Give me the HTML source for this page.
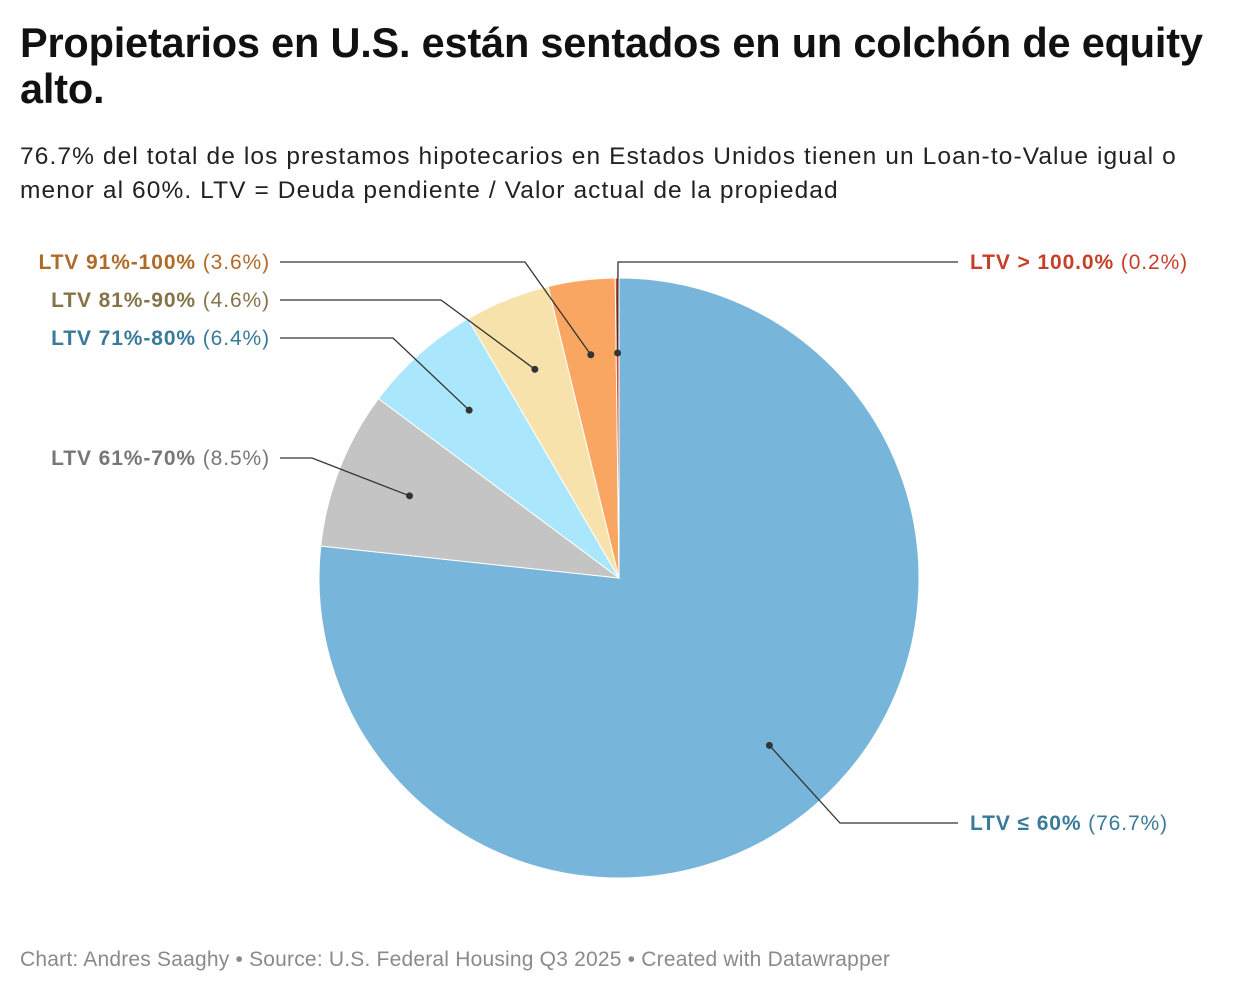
<!DOCTYPE html>
<html><head><meta charset="utf-8">
<style>
body{margin:0;width:1240px;height:994px;background:#fff;font-family:"Liberation Sans",Arial,sans-serif;overflow:hidden;position:relative}
h1{position:absolute;left:20px;top:20px;margin:0;font-size:41.5px;line-height:46px;font-weight:bold;color:#111;width:1215px;letter-spacing:-0.2px}
.sub{position:absolute;left:20px;top:140px;font-size:24.5px;line-height:34px;color:#222;width:1222px;letter-spacing:1.1px}
.foot{position:absolute;left:20px;top:948px;font-size:21px;color:#8a8a8a;letter-spacing:0.2px}
svg{position:absolute;left:0;top:0}
</style></head><body>
<h1>Propietarios en U.S. están sentados en un colchón de equity alto.</h1>
<div class="sub">76.7% del total de los prestamos hipotecarios en Estados Unidos tienen un Loan-to-Value igual o menor al 60%. LTV = Deuda pendiente / Valor actual de la propiedad</div>
<svg id="chart" width="1240" height="994"></svg>
<div class="foot">Chart: Andres Saaghy • Source: U.S. Federal Housing Q3 2025 • Created with Datawrapper</div>
<script>
const categories=["LTV ≤ 60%","LTV 61%-70%","LTV 71%-80%","LTV 81%-90%","LTV 91%-100%","LTV > 100.0%"];
const values=[76.7,8.5,6.4,4.6,3.6,0.2];
const valueLabels=["76.7%","8.5%","6.4%","4.6%","3.6%","0.2%"];
const fills=["#77b6da","#c4c4c4","#aae7fc","#f8e2ac","#f9a662","#d9442b"];
const textColors=["#3a7a99","#777777","#3a7a99","#857448","#b06a27","#c63f28"];
const labelPos=[[840,823,958,823,"start"],[312,458,280,458,"end"],[393,338,280,338,"end"],[441,300,280,300,"end"],[525,262,280,262,"end"],[618,262,958,262,"start"]];
const svg=document.getElementById('chart');
const NS="http://www.w3.org/2000/svg";
const cx=619,cy=578,R=300;
const total=values.reduce((a,b)=>a+b,0);
function pt(a,r){return [cx+r*Math.sin(a),cy-r*Math.cos(a)];}
let acc=0;
const gL=document.createElementNS(NS,'g');
values.forEach((v,i)=>{
 const a0=acc/total*2*Math.PI;acc+=v;const a1=acc/total*2*Math.PI;
 const p0=pt(a0,R),p1=pt(a1,R);const large=(a1-a0)>Math.PI?1:0;
 const p=document.createElementNS(NS,'path');
 p.setAttribute('d',`M${cx},${cy}L${p0[0]},${p0[1]}A${R},${R} 0 ${large} 1 ${p1[0]},${p1[1]}Z`);
 p.setAttribute('fill',fills[i]);p.setAttribute('stroke','#fff');p.setAttribute('stroke-width','1');
 
 
 svg.appendChild(p);
 const am=(a0+a1)/2;const d=pt(am,R*0.75);
 const lp=labelPos[i];
 const l=document.createElementNS(NS,'polyline');
 l.setAttribute('points',`${d[0]},${d[1]} ${lp[0]},${lp[1]} ${lp[2]},${lp[3]}`);
 l.setAttribute('fill','none');l.setAttribute('stroke','#333');l.setAttribute('stroke-width','1.3');
 
 
 gL.appendChild(l);
 const c=document.createElementNS(NS,'circle');
 c.setAttribute('cx',d[0]);c.setAttribute('cy',d[1]);c.setAttribute('r','3.5');c.setAttribute('fill','#333');
 
 
 gL.appendChild(c);
 const t=document.createElementNS(NS,'text');
 const tx=lp[4]==="start"?lp[2]+12:lp[2]-10;
 t.setAttribute('x',tx);t.setAttribute('y',lp[3]+7);t.setAttribute('text-anchor',lp[4]);
 t.setAttribute('font-size','21');t.setAttribute('fill',textColors[i]);
 t.setAttribute('letter-spacing','0.9');
 t.setAttribute('font-family','"Liberation Sans",Arial,sans-serif');
 
 
 const b=document.createElementNS(NS,'tspan');b.setAttribute('font-weight','bold');b.textContent=categories[i];
 const n=document.createElementNS(NS,'tspan');n.textContent=' ('+valueLabels[i]+')';
 t.appendChild(b);t.appendChild(n);gL.appendChild(t);
});
svg.appendChild(gL);
</script>
</body></html>
